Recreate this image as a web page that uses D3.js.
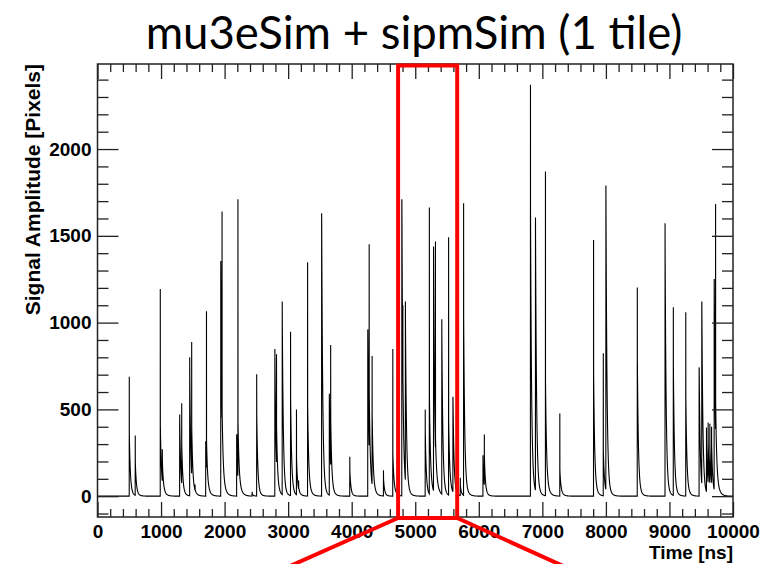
<!DOCTYPE html>
<html lang="en">

<head>
    <meta charset="utf-8">
    <title>mu3eSim + sipmSim</title>
</head>
<style>
    body {
        margin: 0;
        background: #fff;
    }

    .axis text {
        font-family: "Liberation Sans", Arial, sans-serif;
        font-weight: bold;
        font-size: 19px;
        fill: #000;
    }

    .axis line {
        stroke: #222;
        stroke-width: 1.3;
    }
</style>

<body>

    <script src="https://cdn.jsdelivr.net/npm/d3@7"></script>
    <script>
        // pulses: start time [ns], height of the peak, height right after the peak
        var pulseTimes = [500, 594, 988, 1020, 1293, 1325, 1451, 1482, 1535, 1703, 1715, 1940, 1960,
            2190, 2210, 2433, 2505, 2791, 2817, 2907, 3038, 3131, 3165, 3306, 3527, 3648, 3669,
            3970, 4253, 4275, 4321, 4500, 4647, 4789, 4805, 4845, 5157, 5222, 5288, 5318, 5418,
            5525, 5593, 5709, 5761, 6066, 6087, 6813, 6892, 7049, 7275, 7806, 7959, 8000, 8494,
            8931, 9061, 9257, 9467, 9509, 9583, 9609, 9636, 9663, 9704, 9726];
        var pulsePeaks = [688, 350, 1194, 270, 471, 535, 800, 888, 67, 317, 1065, 1355, 1640,
            357, 1711, 25, 702, 848, 817, 1121, 948, 500, 90, 1348, 1630, 590, 871,
            227, 961, 1451, 807, 150, 848, 1711, 1100, 1121, 500, 1663, 1438, 1467, 1019,
            1492, 573, 106, 1688, 236, 356, 2370, 1605, 1871, 477, 1476, 823, 1790, 1203,
            1573, 1088, 1059, 742, 1121, 396, 424, 417, 400, 1251, 1684];
        var pulseShoulders = [352, 200, 409, 200, 430, 300, 700, 400, 40, 300, 320, 1300, 500,
            340, 430, 15, 470, 800, 400, 1025, 572, 220, 50, 530, 1580, 550, 450,
            150, 950, 600, 477, 100, 245, 1700, 600, 1025, 370, 580, 1400, 300, 915,
            430, 560, 60, 1034, 200, 230, 1640, 1492, 650, 150, 713, 260, 1727, 794,
            1419, 746, 573, 740, 1100, 300, 300, 300, 300, 1240, 544];

        var xTicks = [0, 1000, 2000, 3000, 4000, 5000, 6000, 7000, 8000, 9000, 10000];
        var yTicks = [0, 500, 1000, 1500, 2000];
        var zoomWindow = [4730, 5660];

        //画布大小
        var width = 773;
        var height = 564;
        var frame = { left: 97.5, right: 733, top: 64, bottom: 517 };

        var svg = d3.select("body")
            .append("svg")
            .attr("width", width)
            .attr("height", height);

        var x = d3.scaleLinear().domain([0, 10000]).range([frame.left, frame.right]);
        var y = d3.scaleLinear().domain([-120, 2490]).range([frame.bottom, frame.top]);

        // one pulse = sharp peak, fast drop, slow tail
        function pulseValue(dt, peak, shoulder) {
            if (dt < 0 || dt > 400) return 0;
            if (dt === 0) return peak;
            return shoulder * Math.exp(-(dt - 1) / 16) + 0.07 * peak * Math.exp(-dt / 40);
        }
        // what the earlier pulses still give at time t
        function residual(t, n, ampP, ampS) {
            var s = 0;
            for (var j = 0; j < n; j++) s += pulseValue(t - pulseTimes[j], ampP[j], ampS[j]);
            return s;
        }
        // the readings are total heights, so take away what is left of earlier pulses
        var ampPeak = [], ampShoulder = [];
        pulseTimes.forEach(function (t0, i) {
            var p = Math.max(pulsePeaks[i] - residual(t0, i, ampPeak, ampShoulder), 0);
            var s = pulseShoulders[i] - residual(t0 + 1, i, ampPeak, ampShoulder)
                - 0.07 * p * Math.exp(-1 / 40);
            ampPeak.push(p);
            ampShoulder.push(Math.max(s, 0));
        });

        var signal = [];
        for (var t = 0; t <= 10000; t++) {
            signal.push([t, residual(t, pulseTimes.length, ampPeak, ampShoulder)]);
        }

        // title
        svg.append("text")
            .attr("x", 414)
            .attr("y", 49)
            .attr("text-anchor", "middle")
            .style("font-family", "Lato, 'Open Sans', sans-serif")
            .style("font-size", "45.5px")
            .text("mu3eSim + sipmSim (1 tile)");

        // trace
        svg.append("path")
            .datum(signal)
            .attr("fill", "none")
            .attr("stroke", "#000")
            .attr("stroke-width", 1.1)
            .attr("d", d3.line()
                .x(function (d) { return x(d[0]); })
                .y(function (d) { return y(d[1]); }));

        // minor tick values
        var xMinor = d3.range(0, 10001, 200).filter(function (d) { return d % 1000 !== 0; });
        var yMinor = d3.range(-100, 2491, 100).filter(function (d) { return d % 500 !== 0; });

        function addAxis(axis, tx, ty) {
            var g = svg.append("g")
                .attr("class", "axis")
                .attr("transform", "translate(" + tx + "," + ty + ")")
                .call(axis);
            g.select(".domain").remove();
            return g;
        }

        // bottom
        addAxis(d3.axisBottom(x).tickValues(xTicks).tickSize(-15).tickPadding(8)
            .tickFormat(d3.format("d")), 0, frame.bottom);
        addAxis(d3.axisBottom(x).tickValues(xMinor).tickSize(-8).tickFormat(""), 0, frame.bottom);
        // top
        addAxis(d3.axisTop(x).tickValues(xTicks).tickSize(-15).tickFormat(""), 0, frame.top);
        addAxis(d3.axisTop(x).tickValues(xMinor).tickSize(-8).tickFormat(""), 0, frame.top);
        // left
        addAxis(d3.axisLeft(y).tickValues(yTicks).tickSize(-21).tickPadding(6)
            .tickFormat(d3.format("d")), frame.left, 0);
        addAxis(d3.axisLeft(y).tickValues(yMinor).tickSize(-11).tickFormat(""), frame.left, 0);
        // right
        addAxis(d3.axisRight(y).tickValues(yTicks).tickSize(-21).tickFormat(""), frame.right, 0);
        addAxis(d3.axisRight(y).tickValues(yMinor).tickSize(-11).tickFormat(""), frame.right, 0);

        // frame
        svg.append("rect")
            .attr("x", frame.left)
            .attr("y", frame.top)
            .attr("width", frame.right - frame.left)
            .attr("height", frame.bottom - frame.top)
            .attr("fill", "none")
            .attr("stroke", "#222")
            .attr("stroke-width", 1.5);

        // axis titles
        svg.append("text")
            .attr("x", frame.right)
            .attr("y", 559)
            .attr("text-anchor", "end")
            .style("font-family", "'Liberation Sans', Arial, sans-serif")
            .style("font-weight", "bold")
            .style("font-size", "19px")
            .text("Time [ns]");

        svg.append("text")
            .attr("transform", "translate(40," + frame.top + ") rotate(-90)")
            .attr("text-anchor", "end")
            .style("font-family", "'Liberation Sans', Arial, sans-serif")
            .style("font-weight", "bold")
            .style("font-size", "21px")
            .text("Signal Amplitude [Pixels]");

        // red zoom box and the lines leading down from it
        var boxL = x(zoomWindow[0]), boxR = x(zoomWindow[1]);
        var boxTop = frame.top + 1.5, boxBottom = frame.bottom + 1;
        svg.append("rect")
            .attr("x", boxL)
            .attr("y", boxTop)
            .attr("width", boxR - boxL)
            .attr("height", boxBottom - boxTop)
            .attr("fill", "none")
            .attr("stroke", "#ff0000")
            .attr("stroke-width", 4);
        svg.append("line")
            .attr("x1", boxL).attr("y1", boxBottom)
            .attr("x2", boxL - 108).attr("y2", height + 2)
            .attr("stroke", "#ff0000").attr("stroke-width", 4);
        svg.append("line")
            .attr("x1", boxR).attr("y1", boxBottom)
            .attr("x2", boxR + 106).attr("y2", height + 2)
            .attr("stroke", "#ff0000").attr("stroke-width", 4);
    </script>
</body>

</html>
